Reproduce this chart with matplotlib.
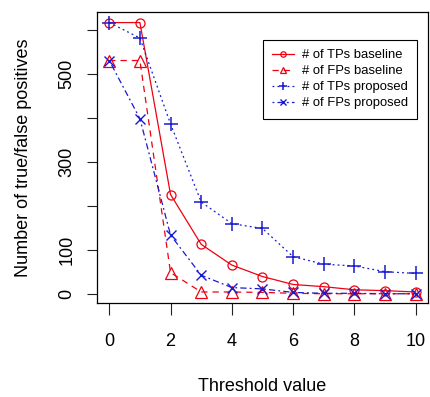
import matplotlib
matplotlib.use("Agg")
import matplotlib.pyplot as plt

plt.rcParams["font.family"] = ["Liberation Sans", "DejaVu Sans"]

thresholds = [0, 1, 2, 3, 4, 5, 6, 7, 8, 9, 10]
tp_baseline = [616, 616, 226, 113, 66, 40, 22, 17, 10, 8, 5]
fp_baseline = [530, 530, 49, 5, 5, 4, 2, 1, 1, 1, 1]
tp_proposed = [616, 581, 386, 209, 160, 149, 85, 68, 64, 51, 47]
fp_proposed = [530, 398, 134, 43, 15, 12, 4, 2, 2, 1, 1]

y_ticks = [0, 100, 200, 300, 400, 500, 600]
y_ticklabels = ["0", "100", "", "300", "", "500", ""]
x_ticks = [0, 2, 4, 6, 8, 10]

red = "#f00010"
blue = "#1a1ad0"

fig = plt.figure(figsize=(4.30, 3.97), dpi=100)
ax = fig.add_axes([97 / 430, 1 - 303 / 397, 331 / 430, 291 / 397])

ax.plot(thresholds, tp_baseline, color=red, lw=0.9, ls="-", marker="o",
        ms=6.5, mfc="none", mew=0.9, label="# of TPs baseline")
ax.plot(thresholds, fp_baseline, color=red, lw=0.9, ls=(0, (5, 4)), marker="^",
        ms=8, mfc="none", mew=0.9, label="# of FPs baseline")
ax.plot(thresholds, tp_proposed, color=blue, lw=0.9, ls=(0, (1.5, 2.5)), marker="+",
        ms=10, mew=1.1, label="# of TPs proposed")
ax.plot(thresholds, fp_proposed, color=blue, lw=0.9, ls=(0, (1.5, 2.5, 5, 2.5)), marker="x",
        ms=7.5, mew=1.0, label="# of FPs proposed")

ax.set_xlim(-0.4, 10.4)
ax.set_ylim(-20, 640)
ax.set_xticks(x_ticks)
ax.set_yticks(y_ticks)
ax.set_yticklabels(y_ticklabels, rotation=90, va="center")
ax.tick_params(direction="out", width=0.8, labelsize=13, color="#222222")
ax.tick_params(axis="x", length=8.5, pad=13)
ax.tick_params(axis="y", length=7.5, pad=8)
for s in ax.spines.values():
    s.set_linewidth(0.9)

ax.set_xlabel("Threshold value", fontsize=13, labelpad=20)
ax.set_ylabel("Number of true/false positives", fontsize=13, labelpad=19)

leg = ax.legend(loc="upper right", bbox_to_anchor=(0.967, 0.904), fontsize=9.4,
                frameon=True, fancybox=False, edgecolor="black", framealpha=1,
                handlelength=1.7, handletextpad=0.6, labelspacing=0.3,
                borderpad=0.7, borderaxespad=0, markerscale=0.6)
leg.get_frame().set_linewidth(0.8)

fig.savefig("out.png", dpi=100)
